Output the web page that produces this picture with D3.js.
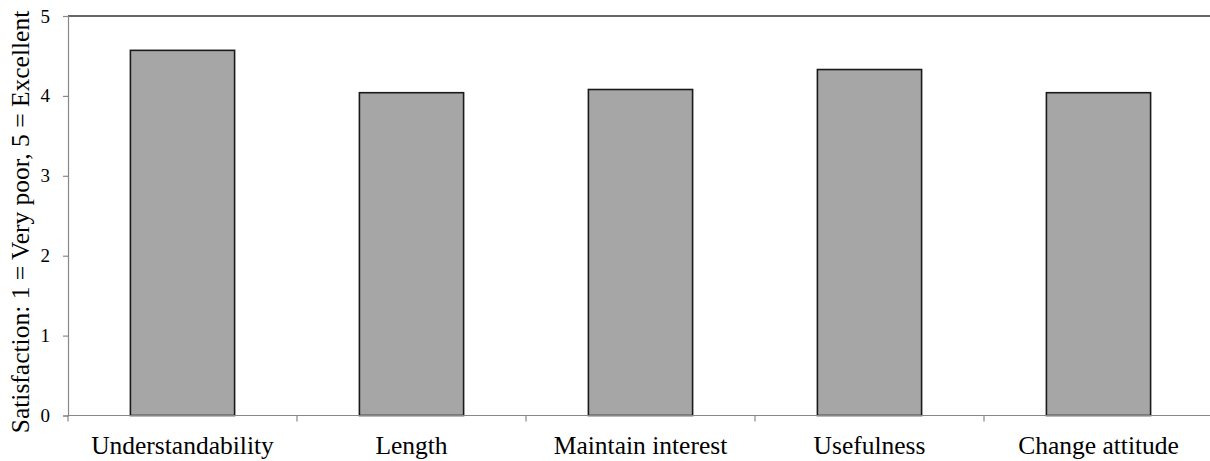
<!DOCTYPE html>
<html>
<head>
<meta charset="utf-8">
<script src="https://cdn.jsdelivr.net/npm/d3@7"></script>
<style>
  body { margin: 0; background: #fff; }
</style>
</head>
<body>
<div id="plot"></div>
<script>
const categories = ["Understandability", "Length", "Maintain interest", "Usefulness", "Change attitude"];
const satisfaction = [4.57, 4.04, 4.08, 4.33, 4.04];
const yTicks = [0, 1, 2, 3, 4, 5];

const W = 1210, H = 461;
const plotLeft = 68, plotTop = 16, plotBottom = 415.5;
const step = 229;
const serif = "'Liberation Serif', 'Times New Roman', Tinos, 'DejaVu Serif', serif";

var svg = d3.select("#plot")
  .append("svg")
  .attr("width", W)
  .attr("height", H);

// x: one band per category, bars centred with Excel-like gap
var x = d3.scaleBand()
  .domain(categories)
  .range([plotLeft, plotLeft + step * categories.length])
  .paddingInner(0.545)
  .paddingOuter(0.2725);

var y = d3.scaleLinear()
  .domain([0, 5])
  .range([plotBottom, plotTop]);

// top border line
svg.append("line")
  .attr("x1", plotLeft).attr("x2", W)
  .attr("y1", y(5)).attr("y2", y(5))
  .attr("stroke", "#333")
  .attr("stroke-width", 1.5);

// bars
svg.selectAll("rect.bar")
  .data(categories)
  .enter()
  .append("rect")
  .attr("class", "bar")
  .attr("x", d => x(d))
  .attr("width", x.bandwidth())
  .attr("y", (d, i) => y(satisfaction[i]))
  .attr("height", (d, i) => y(0) - y(satisfaction[i]))
  .attr("fill", "#a6a6a6")
  .attr("stroke", "#1a1a1a")
  .attr("stroke-width", 1.6);

// Y axis
var yAxis = svg.append("g")
  .attr("transform", `translate(${plotLeft},0)`)
  .call(d3.axisLeft(y).tickValues(yTicks).tickSize(5).tickPadding(13).tickFormat(d3.format("d")));
yAxis.select(".domain").attr("stroke", "#888").attr("stroke-width", 1.2);
yAxis.selectAll(".tick line").attr("stroke", "#888").attr("stroke-width", 1.2);
yAxis.selectAll(".tick text")
  .style("font-family", serif)
  .style("font-size", "19px")
  .attr("fill", "#000");

// X axis: line + ticks at category boundaries
var gap = x.step() * x.paddingInner() / 2;
var xAxis = svg.append("g");
xAxis.append("line")
  .attr("x1", plotLeft).attr("x2", W)
  .attr("y1", y(0)).attr("y2", y(0))
  .attr("stroke", "#888").attr("stroke-width", 1.2);
xAxis.selectAll("line.tk")
  .data(categories)
  .enter()
  .append("line")
  .attr("class", "tk")
  .attr("x1", d => x(d) - gap).attr("x2", d => x(d) - gap)
  .attr("y1", y(0)).attr("y2", y(0) + 6)
  .attr("stroke", "#888").attr("stroke-width", 1.2);
xAxis.selectAll("text")
  .data(categories)
  .enter()
  .append("text")
  .attr("x", d => x(d) + x.bandwidth() / 2)
  .attr("y", 454)
  .attr("text-anchor", "middle")
  .style("font-family", serif)
  .style("font-size", "25.5px")
  .text(d => d);

// Y axis title
svg.append("text")
  .attr("transform", `translate(29, 222) rotate(-90)`)
  .attr("text-anchor", "middle")
  .style("font-family", serif)
  .style("font-size", "25.5px")
  .text("Satisfaction: 1 = Very poor, 5 = Excellent");
</script>
</body>
</html>
